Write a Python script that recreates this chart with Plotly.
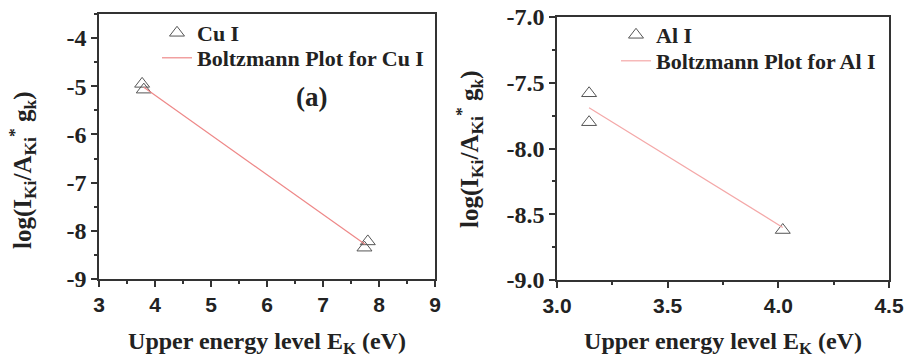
import plotly.graph_objects as go

# ---- data ----
cu_energy = [3.77, 3.80, 7.80, 7.74]
cu_logval = [-4.95, -5.07, -8.22, -8.35]
cu_fit_x = [3.80, 7.75]
cu_fit_y = [-5.02, -8.28]

al_energy = [3.145, 3.145, 4.02]
al_logval = [-7.58, -7.80, -8.62]
al_fit_x = [3.145, 4.02]
al_fit_y = [-7.69, -8.60]

cu_xticks = [3, 4, 5, 6, 7, 8, 9]
cu_xtext = ["3", "4", "5", "6", "7", "8", "9"]
cu_yticks = [-9, -8, -7, -6, -5, -4]
cu_ytext = ["-9", "-8", "-7", "-6", "-5", "-4"]
al_xticks = [3.0, 3.5, 4.0, 4.5]
al_xtext = ["3.0", "3.5", "4.0", "4.5"]
al_yticks = [-9.0, -8.5, -8.0, -7.5, -7.0]
al_ytext = ["-9.0", "-8.5", "-8.0", "-7.5", "-7.0"]

serif = "Times New Roman, Liberation Serif, serif"
sans = "Arial, Liberation Sans, sans-serif"
tri_color = "#555555"
W, H = 906, 358

fig = go.Figure()
fig.add_trace(go.Scatter(x=cu_energy, y=cu_logval, mode="markers", name="Cu I",
                         marker=dict(symbol="triangle-up-open", size=13, color=tri_color, line=dict(width=1)),
                         xaxis="x", yaxis="y", legend="legend"))
fig.add_trace(go.Scatter(x=cu_fit_x, y=cu_fit_y, mode="lines", name="Boltzmann Plot for Cu I",
                         line=dict(color="#ee8888", width=1.2),
                         xaxis="x", yaxis="y", legend="legend2"))
fig.add_trace(go.Scatter(x=al_energy, y=al_logval, mode="markers", name="Al I",
                         marker=dict(symbol="triangle-up-open", size=13, color=tri_color, line=dict(width=1)),
                         xaxis="x2", yaxis="y2", legend="legend3"))
fig.add_trace(go.Scatter(x=al_fit_x, y=al_fit_y, mode="lines", name="Boltzmann Plot for Al I",
                         line=dict(color="#f4a8a8", width=1.2),
                         xaxis="x2", yaxis="y2", legend="legend4"))

axcommon = dict(showline=True, linecolor="#333333", linewidth=1.5, mirror=True,
                ticks="outside", ticklen=6, tickwidth=1.5, tickcolor="#333333",
                showgrid=False, zeroline=False, automargin=False)
xtickfont = dict(family=sans, size=21, color="#222", weight="bold")
ytickfont = dict(family=serif, size=24, color="#222", weight="bold")

ytitle = "log(I<sub>Ki</sub>/A<sub>Ki</sub><sup>*</sup> g<sub>k</sub>)"
xtitle = "Upper energy level E<sub>K</sub> (eV)"
xtitlefont = dict(family=serif, size=24, color="#222", weight="bold")
ytitlefont = dict(family=serif, size=25, color="#222", weight="bold")
legfont = dict(family=serif, size=22, color="#222", weight="bold")


def leg(xpx, toppx):
    return dict(x=xpx / W, y=1 - toppx / H, xanchor="left", yanchor="top",
                bgcolor="rgba(0,0,0,0)", font=legfont, itemwidth=30)


fig.update_layout(
    width=W, height=H,
    margin=dict(l=0, r=0, t=0, b=0),
    paper_bgcolor="white", plot_bgcolor="white",
    xaxis=dict(domain=[99/W, 435/W], range=[3, 9], tickvals=cu_xticks, ticktext=cu_xtext,
               minor=dict(ticks="outside", dtick=0.5, ticklen=3, tickcolor="#333"), tickfont=xtickfont,
               title=dict(text=xtitle, font=xtitlefont, standoff=20), anchor="y", **axcommon),
    yaxis=dict(domain=[1-279/H, 1-14/H], range=[-9, -3.5], tickvals=cu_yticks, ticktext=cu_ytext,
               minor=dict(ticks="outside", dtick=0.5, ticklen=3, tickcolor="#333"), tickfont=ytickfont,
               anchor="x", **axcommon),
    xaxis2=dict(domain=[557/W, 889/W], range=[3, 4.5], tickvals=al_xticks, ticktext=al_xtext,
                minor=dict(ticks="outside", dtick=0.25, ticklen=3, tickcolor="#333"), tickfont=xtickfont,
                title=dict(text=xtitle, font=xtitlefont, standoff=20), anchor="y2", **axcommon),
    yaxis2=dict(domain=[1-280/H, 1-17/H], range=[-9, -7], tickvals=al_yticks, ticktext=al_ytext,
                minor=dict(ticks="outside", dtick=0.25, ticklen=3, tickcolor="#333"), tickfont=ytickfont,
                anchor="x2", **axcommon),
    legend=leg(157, 12),
    legend2=leg(157, 37),
    legend3=leg(616, 14),
    legend4=leg(616, 40),
    showlegend=True,
    annotations=[
        dict(text="(a)", x=6.79, y=-5.22, xref="x", yref="y", showarrow=False,
             font=dict(family=serif, size=27, color="#222", weight="bold")),
        dict(text=ytitle, x=22/W, y=1-170/H, xref="paper", yref="paper", showarrow=False,
             textangle=-90, xanchor="center", yanchor="middle", font=ytitlefont),
        dict(text=ytitle, x=469/W, y=1-149/H, xref="paper", yref="paper", showarrow=False,
             textangle=-90, xanchor="center", yanchor="middle", font=ytitlefont),
    ],
)

fig.write_html("out.html")
